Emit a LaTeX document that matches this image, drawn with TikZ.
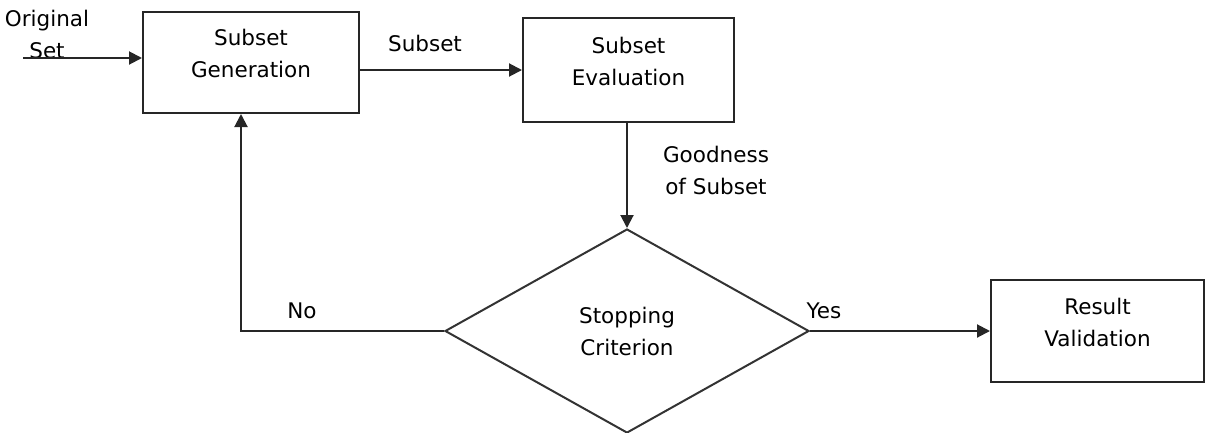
\documentclass[tikz,border=0pt]{standalone}
\usepackage{fontspec}
\setmainfont{DejaVu Sans}
\usetikzlibrary{shapes.geometric,arrows.meta}

\begin{document}
\begin{tikzpicture}[x=1pt, y=-1pt,
    font=\fontsize{21.5}{32}\selectfont,
    box/.style={draw=black!85, line width=2pt, minimum width=216pt, minimum height=101pt, align=center, inner sep=0pt, text depth=18pt},
    decide/.style={draw=black!80, line width=2pt, diamond, minimum width=364pt, minimum height=204pt, align=center, inner sep=0pt},
    flow/.style={draw=black!85, line width=2pt, -{Triangle[length=13pt,width=13pt]}},
    txt/.style={align=center, inner sep=0pt}]
    \useasboundingbox (0,0) rectangle (1205,432);

    % Define positions of the blocks
    \node[box] (gen) at (251,62.5) {Subset\\Generation};
    \node[box, minimum width=211pt, minimum height=104pt] (eval) at (628.5,70) {Subset\\Evaluation};
    \node[decide] (stop) at (627,331) {Stopping\\Criterion};
    \node[box, minimum width=213pt, minimum height=102pt] (valid) at (1097.5,331) {Result\\Validation};

    % labels on the connectors
    \node[txt] (orig) at (47,34) {Original\\Set};
    \node[txt] (lsub) at (425,43) {Subset};
    \node[txt] (lgood) at (716,170) {Goodness\\of Subset};
    \node[txt] (lno) at (302,311) {No};
    \node[txt] (lyes) at (824,311) {Yes};
    \coordinate (in) at (23,58);
    \coordinate (corner) at (241,331);

    % draw the connectors
    \draw[flow] (in) -- (in -| gen.west);
    \draw[flow] (gen.east |- eval.west) -- (eval.west);
    \draw[flow] (eval.south -| stop.north) -- (stop.north);
    \draw[flow] (stop.west) -- (corner) -- (corner |- gen.south);
    \draw[flow] (stop.east) -- (valid.west);
\end{tikzpicture}
\end{document}
